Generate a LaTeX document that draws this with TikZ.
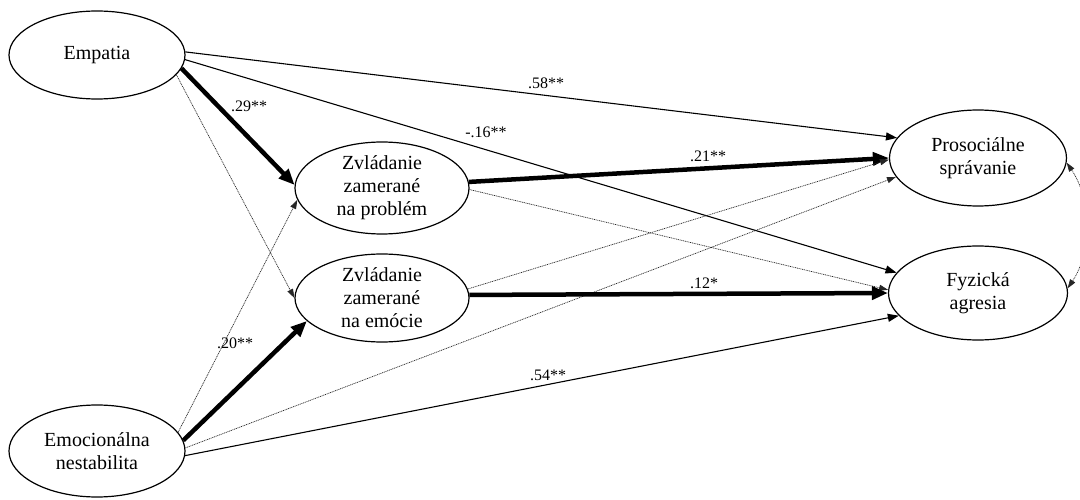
\documentclass[tikz,border=0pt]{standalone}
\usepackage{fontspec}
\setmainfont{Liberation Serif}
\usetikzlibrary{shapes.geometric,arrows.meta}
\begin{document}
\begin{tikzpicture}[x=1pt,y=-1pt,
  var/.style={draw,ellipse,line width=1.2pt,inner sep=0pt,align=center,
    font=\fontsize{20}{23}\selectfont},
  coef/.style={inner sep=0pt,font=\fontsize{16}{18}\selectfont},
  thin/.style={line width=1.1pt,-{Triangle[length=11pt,width=8pt]}},
  thick/.style={line width=4.5pt,-{Triangle[length=16pt,width=13pt]}},
  dots/.style={line width=0.7pt,black!85,dash pattern=on 1pt off 0.8pt,
    -{Triangle[length=9pt,width=6pt]}},
  ]
\useasboundingbox (0,0) rectangle (1080,500);
\fill[white] (0,0) rectangle (1080,500);

\node[var,minimum width=176pt,minimum height=88pt] (emp) at (97,55) {Empatia};
\node[var,minimum width=176pt,minimum height=92pt] (en) at (97,451) {Emocionálna\\nestabilita};
\node[var,minimum width=174pt,minimum height=92pt] (zp) at (382,188) {Zvládanie\\zamerané\\na problém};
\node[var,minimum width=174pt,minimum height=88pt] (ze) at (382,298) {Zvládanie\\zamerané\\na emócie};
\node[var,minimum width=177pt,minimum height=96pt] (pro) at (978,158) {Prosociálne\\správanie};
\node[var,minimum width=179pt,minimum height=94pt] (fyz) at (978,293) {Fyzická\\agresia};

% Empatia
\draw[thin] (emp.2) -- (pro.166);
\draw[thin] (emp.-3) -- (fyz.166);
\draw[thick] (emp.-9) -- (zp.178);
\draw[dots] (emp.-14) -- (ze.180);

% Emocionalna nestabilita
\draw[dots] (en.13) -- (zp.188);
\draw[thick] (en.7) -- (ze.197);
\draw[dots] (en.2.5) -- (pro.193);
\draw[thin] (en.-3) -- (fyz.196);

% mediators
\draw[thick] (zp.4) -- (pro.180);
\draw[dots] (zp.-1) -- (fyz.178);
\draw[dots] (ze.6) -- (pro.181);
\draw[thick] (ze.2) -- (fyz.180);

% covariance
\draw[line width=0.7pt,black!85,dash pattern=on 1pt off 0.8pt,
  {Triangle[length=9pt,width=6pt]}-{Triangle[length=9pt,width=6pt]}]
  (pro.-3) .. controls (1092,200) and (1092,252) .. (fyz.3);

% coefficients
\node[coef] (c58) at (546,83) {.58**};
\node[coef] (c16) at (486,132) {-.16**};
\node[coef] (c29) at (249,106) {.29**};
\node[coef] (c21) at (708,156) {.21**};
\node[coef] (c12) at (704,283) {.12*};
\node[coef] (c20) at (235,343) {.20**};
\node[coef] (c54) at (548,375) {.54**};
\end{tikzpicture}
\end{document}
